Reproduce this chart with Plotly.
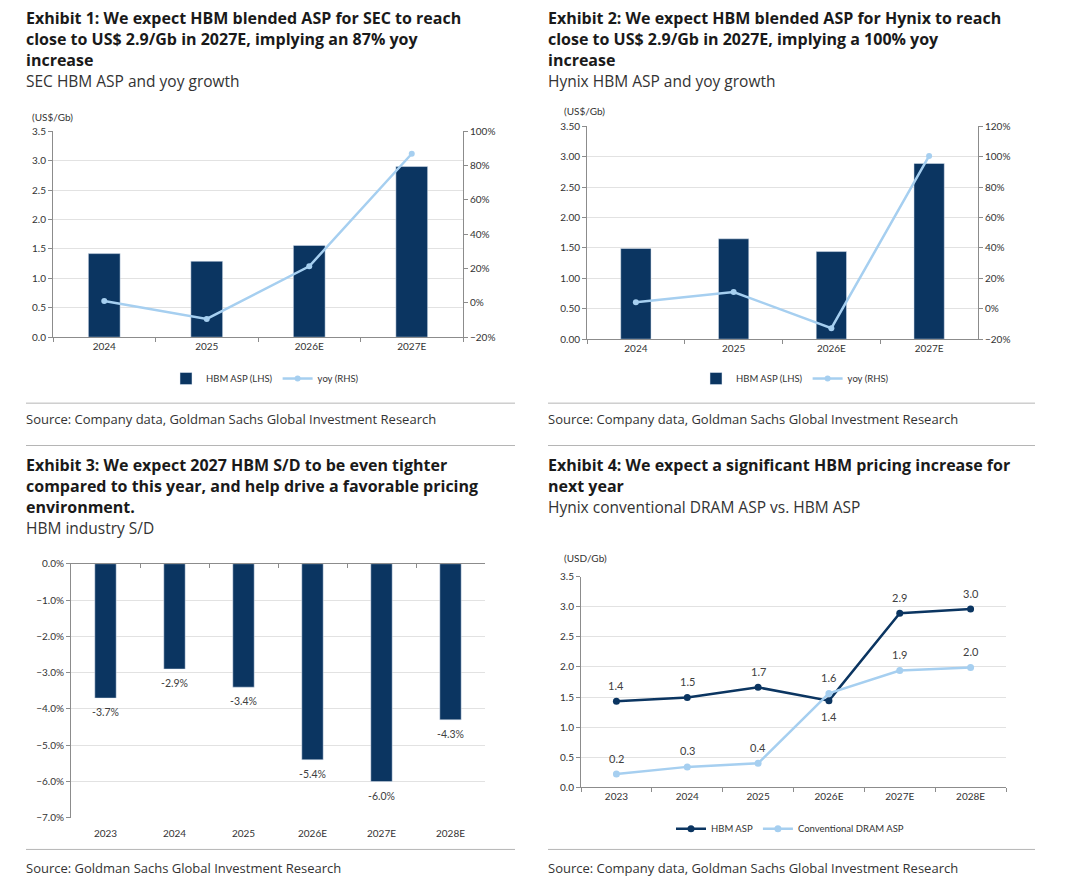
import plotly.graph_objects as go

# page is 1080x892; the browser body keeps an 8px margin around the figure
PAGE_W, PAGE_H, M = 1080, 892, 8
W, H = PAGE_W - 2 * M, PAGE_H - 2 * M

# ---------------- data ----------------
years4 = ["2024", "2025", "2026E", "2027E"]
sec_asp = [1.42, 1.29, 1.56, 2.90]
sec_yoy = [1.1, -9.4, 21.3, 86.9]

hynix_asp = [1.49, 1.65, 1.44, 2.89]
hynix_yoy = [4.3, 11.0, -12.8, 100.5]

years6 = ["2023", "2024", "2025", "2026E", "2027E", "2028E"]
hbm_sd = [-3.7, -2.9, -3.4, -5.4, -6.0, -4.3]

hbm_asp = [1.43, 1.49, 1.66, 1.44, 2.89, 2.96]
dram_asp = [0.22, 0.34, 0.40, 1.56, 1.94, 1.99]
hbm_label_below = [False, False, False, True, False, False]

NAVY = "#0b3561"
LIGHT = "#a6cff0"
GRID = "#e2e2e2"
AXIS = "#8c8c8c"
TXT = "#404040"
FONT = "Lato"
TFONT = "Open Sans"


def px_x(p):
    return (p - M) / W


def px_y(p):
    return 1 - (p - M) / H


fig = go.Figure()

# ---------- Panel 1 ----------
fig.add_trace(go.Bar(x=years4, y=sec_asp, name="HBM ASP (LHS)", marker_color=NAVY,
                     xaxis="x", yaxis="y", legend="legend"))
fig.add_trace(go.Scatter(x=years4, y=sec_yoy, name="yoy (RHS)", mode="lines+markers",
                         line=dict(color=LIGHT, width=2.5), marker=dict(size=6, color=LIGHT),
                         xaxis="x", yaxis="y2", legend="legend"))

# ---------- Panel 2 ----------
fig.add_trace(go.Bar(x=years4, y=hynix_asp, name="HBM ASP (LHS)", marker_color=NAVY,
                     xaxis="x3", yaxis="y3", legend="legend2"))
fig.add_trace(go.Scatter(x=years4, y=hynix_yoy, name="yoy (RHS)", mode="lines+markers",
                         line=dict(color=LIGHT, width=2.5), marker=dict(size=6, color=LIGHT),
                         xaxis="x3", yaxis="y4", legend="legend2"))

# ---------- Panel 3 ----------
fig.add_trace(go.Bar(x=years6, y=hbm_sd, marker_color=NAVY, showlegend=False,
                     xaxis="x5", yaxis="y5"))
fig.add_trace(go.Scatter(x=years6, y=hbm_sd, mode="markers", marker=dict(opacity=0),
                         hoverinfo="skip", showlegend=False, xaxis="x7", yaxis="y5"))
for i, v in enumerate(hbm_sd):
    fig.add_annotation(x=i, y=v, xref="x5", yref="y5", text=f"{v:.1f}%", showarrow=False,
                       yshift=-14, font=dict(size=10.5, color=TXT, family=FONT))

# ---------- Panel 4 ----------
fig.add_trace(go.Scatter(x=years6, y=hbm_asp, name="HBM ASP", mode="lines+markers",
                         line=dict(color=NAVY, width=2.5), marker=dict(size=7, color=NAVY),
                         cliponaxis=False, xaxis="x6", yaxis="y6", legend="legend3"))
fig.add_trace(go.Scatter(x=years6, y=dram_asp, name="Conventional DRAM ASP", mode="lines+markers",
                         line=dict(color=LIGHT, width=2.5), marker=dict(size=7, color=LIGHT),
                         cliponaxis=False, xaxis="x6", yaxis="y6", legend="legend3"))

for i, (v, below) in enumerate(zip(hbm_asp, hbm_label_below)):
    fig.add_annotation(x=i, y=v, xref="x6", yref="y6", text=f"{v:.1f}", showarrow=False,
                       yshift=-16 if below else 16, font=dict(size=11, color=TXT, family=FONT))
for i, v in enumerate(dram_asp):
    fig.add_annotation(x=i, y=v, xref="x6", yref="y6", text=f"{v:.1f}", showarrow=False,
                       yshift=16, font=dict(size=11, color=TXT, family=FONT))

tickfont = dict(size=10, color="#333333", family=FONT)

cat_axis = dict(type="category", tickson="boundaries", ticks="outside", ticklen=4,
                tickcolor=AXIS, showline=True, linecolor=AXIS, linewidth=1,
                showgrid=False, tickfont=tickfont, fixedrange=True)
val_axis = dict(showline=True, linecolor=AXIS, linewidth=1, ticks="outside", ticklen=4,
                tickcolor=AXIS, showgrid=True, gridcolor=GRID, gridwidth=1,
                zeroline=False, tickfont=tickfont, fixedrange=True)

legend_common = dict(orientation="h", xanchor="center", yanchor="middle",
                     font=dict(size=9.5, color="#333333", family=FONT),
                     bgcolor="rgba(0,0,0,0)", itemwidth=30, tracegroupgap=0)

fig.update_layout(
    width=W, height=H,
    margin=dict(l=0, r=0, t=0, b=0),
    paper_bgcolor="white", plot_bgcolor="white",
    font=dict(family=FONT, color="#222222"),
    bargap=0.69,
    xaxis=dict(cat_axis, domain=[px_x(53), px_x(463)], anchor="y"),
    yaxis=dict(val_axis, domain=[px_y(335), px_y(126)], range=[0, 3.5], dtick=0.5,
               tickformat=".1f", anchor="x"),
    yaxis2=dict(val_axis, overlaying="y", side="right", anchor="x", range=[-20, 100],
                dtick=20, ticksuffix="%", showgrid=False),
    xaxis3=dict(cat_axis, domain=[px_x(587), px_x(978)], anchor="y3"),
    yaxis3=dict(val_axis, domain=[px_y(337), px_y(121)], range=[0, 3.5], dtick=0.5,
                tickformat=".2f", anchor="x3"),
    yaxis4=dict(val_axis, overlaying="y3", side="right", anchor="x3", range=[-20, 120],
                dtick=20, ticksuffix="%", showgrid=False),
    xaxis5=dict(type="category", domain=[px_x(71), px_x(485)], anchor="y5",
                range=[-0.5, len(years6) - 0.5], ticklabelstandoff=8,
                showline=False, ticks="", showgrid=False, tickfont=tickfont, fixedrange=True),
    xaxis7=dict(type="category", overlaying="x5", side="top", anchor="y5",
                range=[-0.5, len(years6) - 0.5],
                tickson="boundaries", ticks="inside", ticklen=4, tickcolor=AXIS,
                showline=True, linecolor=AXIS, showticklabels=False, showgrid=False,
                fixedrange=True),
    yaxis5=dict(val_axis, domain=[px_y(823), px_y(565)], range=[-7, 0], dtick=1,
                tickformat=".1f", ticksuffix="%", anchor="x5"),
    xaxis6=dict(cat_axis, domain=[px_x(581), px_x(1006)], anchor="y6",
                range=[-0.5, len(years6) - 0.5]),
    yaxis6=dict(val_axis, domain=[px_y(792), px_y(578)], range=[0, 3.5], dtick=0.5,
                tickformat=".1f", anchor="x6"),
    legend=dict(legend_common, x=px_x(265), y=px_y(377)),
    legend2=dict(legend_common, x=px_x(795), y=px_y(377)),
    legend3=dict(legend_common, x=px_x(790), y=px_y(834)),
)

# ---------- Text ----------
TITLE_SIZE = 16
SUB_SIZE = 15.5
SRC_SIZE = 13
LINE = 21.3


def add_text(x, y, text, size, bold=False, color="#1a1a1a", family=TFONT):
    fig.add_annotation(x=px_x(x), y=px_y(y), xref="paper", yref="paper",
                       xanchor="left", yanchor="middle", align="left", showarrow=False,
                       text=f"<b>{text}</b>" if bold else text,
                       font=dict(size=size, color=color, family=family))


def add_title(x, y, lines, subtitle):
    for k, ln in enumerate(lines):
        add_text(x, y + k * LINE, ln, TITLE_SIZE, bold=True)
    add_text(x, y + len(lines) * LINE, subtitle, SUB_SIZE, color="#333333")


add_title(24, 11, ["Exhibit 1: We expect HBM blended ASP for SEC to reach",
                   "close to US$ 2.9/Gb in 2027E, implying an 87% yoy",
                   "increase"], "SEC HBM ASP and yoy growth")
add_title(546, 11, ["Exhibit 2: We expect HBM blended ASP for Hynix to reach",
                    "close to US$ 2.9/Gb in 2027E, implying a 100% yoy",
                    "increase"], "Hynix HBM ASP and yoy growth")
add_title(24, 465, ["Exhibit 3: We expect 2027 HBM S/D to be even tighter",
                    "compared to this year, and help drive a favorable pricing",
                    "environment."], "HBM industry S/D")
add_title(546, 465, ["Exhibit 4: We expect a significant HBM pricing increase for",
                     "next year"], "Hynix conventional DRAM ASP vs. HBM ASP")

# axis unit labels
add_text(30, 112, "(US$/Gb)", 10, color="#333333", family=FONT)
add_text(562, 105, "(US$/Gb)", 10, color="#333333", family=FONT)
add_text(562, 559, "(USD/Gb)", 10, color="#333333", family=FONT)

# sources
add_text(24, 418, "Source: Company data, Goldman Sachs Global Investment Research", SRC_SIZE,
         color="#333333")
add_text(546, 418, "Source: Company data, Goldman Sachs Global Investment Research", SRC_SIZE,
         color="#333333")
add_text(24, 874, "Source: Goldman Sachs Global Investment Research", SRC_SIZE,
         color="#333333")
add_text(546, 874, "Source: Company data, Goldman Sachs Global Investment Research", SRC_SIZE,
         color="#333333")

# separators
for (x0, x1, y) in [(26, 515, 402), (26, 515, 445), (548, 1035, 402), (548, 1035, 445),
                    (26, 515, 855), (548, 1035, 855)]:
    fig.add_shape(type="line", xref="paper", yref="paper", x0=px_x(x0), x1=px_x(x1),
                  y0=px_y(y), y1=px_y(y), line=dict(color="#b5b5b5", width=1))

fig.write_html("out.html", config={"displayModeBar": False})
